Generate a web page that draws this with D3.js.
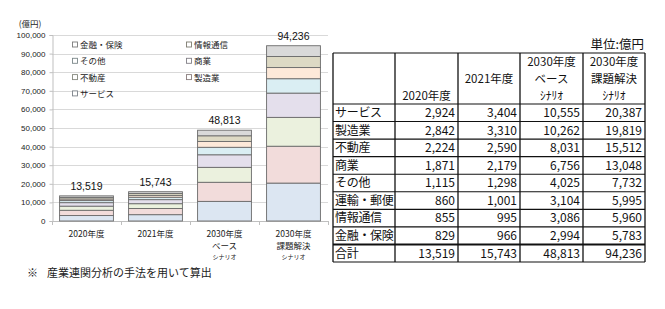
<!DOCTYPE html>
<html><head><meta charset="utf-8">
<script src="https://cdn.jsdelivr.net/npm/d3@7"></script>
<style>
body{margin:0;background:#fff;}
svg{display:block;font-family:"Noto Sans CJK JP","Noto Sans",sans-serif;}
</style></head><body>
<svg id="c" width="665" height="309"></svg>
<script>
const categories = ["2020年度","2021年度","2030年度ベースシナリオ","2030年度課題解決シナリオ"];
const categoryLines = [["2020年度"],["2021年度"],["2030年度","ベース","シナリオ"],["2030年度","課題解決","シナリオ"]];
const seriesNames = ["サービス","製造業","不動産","商業","その他","運輸・郵便","情報通信","金融・保険"];
const serviceVals = [2924,3404,10555,20387];
const manufVals   = [2842,3310,10262,19819];
const realEstVals = [2224,2590,8031,15512];
const commerceVals= [1871,2179,6756,13048];
const otherVals   = [1115,1298,4025,7732];
const transportVals=[860,1001,3104,5995];
const infoVals    = [855,995,3086,5960];
const financeVals = [829,966,2994,5783];
const totals      = [13519,15743,48813,94236];
const seriesValues = [serviceVals,manufVals,realEstVals,commerceVals,otherVals,transportVals,infoVals,financeVals];
const colors = ["#dce6f2","#f2dcdb","#ebf1de","#e4dfec","#daeef3","#fde9d9","#ddd9c4","#d9d9d9"];
const legendOrder = ["金融・保険","情報通信","その他","商業","不動産","製造業","サービス"];
const yTicks = [0,10000,20000,30000,40000,50000,60000,70000,80000,90000,100000];
const tableHeaders = [["","","2020年度"],["","2021年度",""],["2030年度","ベース","ｼﾅﾘｵ"],["2030年度","課題解決","ｼﾅﾘｵ"]];

const svg = d3.select("#c");
const fmt = d3.format(",");

// ---------- chart ----------
const L=52, R=328, T=35, B=221;
const x = d3.scaleBand().domain(categories).range([L,R]).paddingInner(0.22).paddingOuter(0.11);
const y = d3.scaleLinear().domain([0,100000]).range([B,T]);

svg.append("g").selectAll("line").data(yTicks.slice(1)).join("line")
  .attr("x1",L).attr("x2",R).attr("y1",d=>Math.round(y(d))+0.5).attr("y2",d=>Math.round(y(d))+0.5)
  .attr("stroke","#d9d9d9").attr("stroke-width",1);

const ya = svg.append("g").attr("transform",`translate(${L+0.5},0)`)
  .call(d3.axisLeft(y).tickValues(yTicks).tickFormat(fmt).tickSize(3).tickPadding(4));
ya.select(".domain").attr("stroke","#bfbfbf");
ya.selectAll(".tick line").attr("stroke","#bfbfbf");
ya.selectAll("text").attr("font-size",8).attr("fill","#222").attr("font-family","'Liberation Sans',Arial,sans-serif");
svg.append("text").attr("x",30).attr("y",27).attr("text-anchor","middle").attr("font-size",8.5).attr("fill","#222").text("(億円)");

svg.append("line").attr("x1",L).attr("x2",R).attr("y1",B+0.5).attr("y2",B+0.5).attr("stroke","#bfbfbf");
const bounds = d3.range(categories.length+1).map(i=>L + i*(R-L)/categories.length);
svg.append("g").selectAll("line").data(bounds).join("line")
  .attr("x1",d=>Math.round(d)+0.5).attr("x2",d=>Math.round(d)+0.5).attr("y1",B).attr("y2",B+4).attr("stroke","#bfbfbf");

const stackData = categories.map((c,i)=>{const o={cat:c}; seriesNames.forEach((s,j)=>o[s]=seriesValues[j][i]); return o;});
const stacked = d3.stack().keys(seriesNames)(stackData);
svg.append("g").selectAll("g").data(stacked).join("g")
  .attr("fill",(d,i)=>colors[i])
  .selectAll("rect").data(d=>d).join("rect")
  .attr("x",d=>x(d.data.cat)).attr("width",x.bandwidth())
  .attr("y",d=>y(d[1])).attr("height",d=>y(d[0])-y(d[1]))
  .attr("stroke","#6b6b6b").attr("stroke-width",0.9);

svg.append("g").selectAll("text").data(categories).join("text")
  .attr("x",d=>x(d)+x.bandwidth()/2).attr("y",(d,i)=>y(totals[i])-6)
  .attr("text-anchor","middle").attr("font-size",10.5).attr("fill","#111")
  .attr("font-family","'Liberation Sans',Arial,sans-serif")
  .text((d,i)=>fmt(totals[i]));

const xl = svg.append("g");
categories.forEach((c,i)=>{
  categoryLines[i].forEach((t,k)=>{
    xl.append("text").attr("x",x(c)+x.bandwidth()/2).attr("y",[237,249,259][k])
      .attr("text-anchor","middle").attr("font-size",k===2?6:8.5).attr("fill","#222").text(t);
  });
});

const lg = svg.append("g");
legendOrder.forEach((name,i)=>{
  const col=i%2, row=Math.floor(i/2);
  const lx = col===0?72:186, ly = 45 + row*16.3;
  const ci = seriesNames.indexOf(name);
  lg.append("rect").attr("x",lx+0.5).attr("y",ly-3).attr("width",5).attr("height",5)
    .attr("fill","#fff").attr("stroke",d3.color(colors[ci]).darker(1.6)).attr("stroke-width",0.9);
  lg.append("text").attr("x",lx+8).attr("y",ly+3).attr("font-size",8.5).attr("fill","#222").text(name);
});

svg.append("text").attr("x",27).attr("y",277).attr("font-size",11).attr("fill","#222").text("※");
svg.append("text").attr("x",47).attr("y",277).attr("font-size",11).attr("fill","#222").text("産業連関分析の手法を用いて算出");

// ---------- table ----------
const colX = [333,395,458,520,583,645];
const hTop=53, hBot=104, rowH=(262-104)/9;
const tg = svg.append("g");
svg.append("text").attr("x",644).attr("y",49).attr("text-anchor","end").attr("font-size",12.5).attr("fill","#111").text("単位:億円");
const rowLabels = seriesNames.concat(["合計"]);
const rowValues = seriesValues.concat([totals]);
tableHeaders.forEach((h,ci)=>{
  h.forEach((t,k)=>{
    if(!t) return;
    tg.append("text").attr("x",(colX[ci+1]+colX[ci+2])/2).attr("y",[66,83,100][k])
      .attr("text-anchor","middle").attr("font-size",11.5).attr("fill","#111").text(t);
  });
});
rowLabels.forEach((lab,r)=>{
  const cy = hBot + rowH*r + rowH/2 + 4.3;
  tg.append("text").attr("x",colX[0]+2).attr("y",cy).attr("font-size",12).attr("letter-spacing",-0.3)
    .attr("fill","#111").text(lab);
  rowValues[r].forEach((v,c)=>{
    tg.append("text").attr("x",colX[c+2]-3).attr("y",cy).attr("text-anchor","end")
      .attr("font-size",12).attr("fill","#111").text(fmt(v));
  });
});
const hl = [hTop,hBot].concat(d3.range(1,10).map(i=>hBot+rowH*i));
tg.selectAll("line.h").data(hl).join("line").attr("class","h")
  .attr("x1",colX[0]).attr("x2",colX[5]).attr("y1",d=>d).attr("y2",d=>d)
  .attr("stroke","#111").attr("stroke-width",(d,i)=>i===9?2:1.1);
tg.selectAll("line.v").data(colX).join("line").attr("class","v")
  .attr("x1",d=>d).attr("x2",d=>d).attr("y1",hTop).attr("y2",hBot+rowH*9)
  .attr("stroke","#111").attr("stroke-width",1.3);
</script>
</body></html>
